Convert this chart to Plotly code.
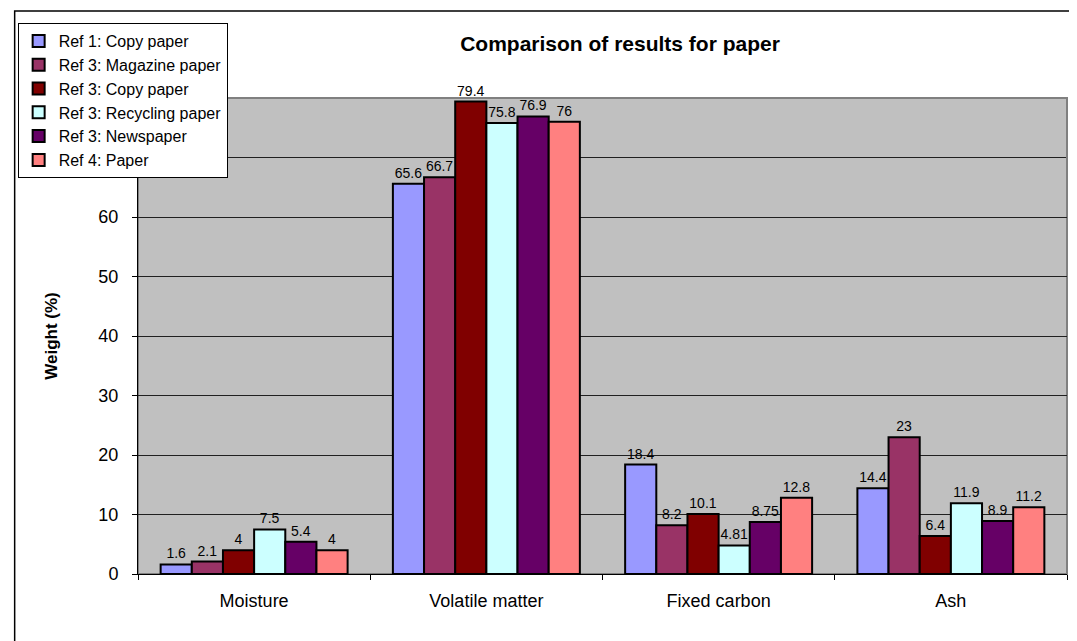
import plotly.graph_objects as go

categories = ["Moisture", "Volatile matter", "Fixed carbon", "Ash"]
series_names = ["Ref 1: Copy paper", "Ref 3: Magazine paper", "Ref 3: Copy paper",
                "Ref 3: Recycling paper", "Ref 3: Newspaper", "Ref 4: Paper"]
ref1_copy = [1.6, 65.6, 18.4, 14.4]
ref3_magazine = [2.1, 66.7, 8.2, 23]
ref3_copy = [4, 79.4, 10.1, 6.4]
ref3_recycling = [7.5, 75.8, 4.81, 11.9]
ref3_newspaper = [5.4, 76.9, 8.75, 8.9]
ref4_paper = [4, 76, 12.8, 11.2]
y_ticks = [0, 10, 20, 30, 40, 50, 60]

series_values = [ref1_copy, ref3_magazine, ref3_copy, ref3_recycling, ref3_newspaper, ref4_paper]
colors = ["#9999FF", "#993366", "#800000", "#CCFFFF", "#660066", "#FF8080"]

# page body has an 8px margin; figure sized/placed to compensate
OX, OY = 8, 8
W, H = 1069, 633
L, R, T, B = 133 - OX, W - (1067 - OX), 98 - OY, H - (574 - OY)
PW, PH = W - L - R, H - T - B

def px(x):  # page x -> paper x
    return (x - OX - L) / PW

def py(y):  # page y -> paper y
    return (H - B - (y - OY)) / PH

fig = go.Figure()
for name, vals, col in zip(series_names, series_values, colors):
    fig.add_trace(go.Bar(
        name=name, x=categories, y=vals,
        marker=dict(color=col, line=dict(color="black", width=2)),
        text=[f"{v:g}" for v in vals], textposition="outside",
        textfont=dict(family="Liberation Sans, Arial", size=14, color="black"),
        cliponaxis=False,
    ))

fig.update_layout(
    width=W, height=H,
    margin=dict(l=L, r=R, t=T, b=B),
    paper_bgcolor="white", plot_bgcolor="#C0C0C0",
    barmode="group", bargap=0.195, bargroupgap=0,
    font=dict(family="Liberation Sans, Arial", color="black"),
    title=dict(text="<b>Comparison of results for paper</b>", x=(620 - OX) / W, xanchor="center",
               y=1 - (44 - OY) / H, yanchor="middle", font=dict(size=21, color="black")),
    legend=dict(x=px(12), y=py(23), xanchor="left", yanchor="top",
                bgcolor="white", bordercolor="black", borderwidth=1,
                font=dict(size=16, color="black"), tracegroupgap=0, itemwidth=30),
    showlegend=True,
)
fig.update_yaxes(range=[0, 80], tickvals=y_ticks, showgrid=True, gridcolor="#202020", gridwidth=1,
                 ticks="outside", ticklen=5, tickcolor="black", showline=True, linecolor="black",
                 linewidth=1, tickfont=dict(size=18), zeroline=False, ticklabelstandoff=10,
                 title=dict(text="<b>Weight (%)</b>", font=dict(size=17), standoff=36))
fig.update_xaxes(showline=True, linecolor="black", linewidth=1, ticks="outside", tickson="boundaries",
                 ticklen=5, tickcolor="black", tickfont=dict(size=18), ticklabelstandoff=10)
# gridline at 70 (its tick label is hidden behind the legend in the original)
fig.add_shape(type="line", xref="paper", yref="y", x0=0, x1=1, y0=70, y1=70,
              line=dict(color="#202020", width=1), layer="below")
# plot area border (grey top/right)
fig.add_shape(type="rect", xref="paper", yref="paper", x0=0, x1=1, y0=0, y1=1,
              line=dict(color="#808080", width=2), layer="below")
# outer chart border
fig.add_shape(type="rect", xref="paper", yref="paper", x0=px(9), x1=1.05,
              y0=-0.3, y1=py(11), line=dict(color="black", width=1.5), layer="below")

fig.write_html("out.html")
